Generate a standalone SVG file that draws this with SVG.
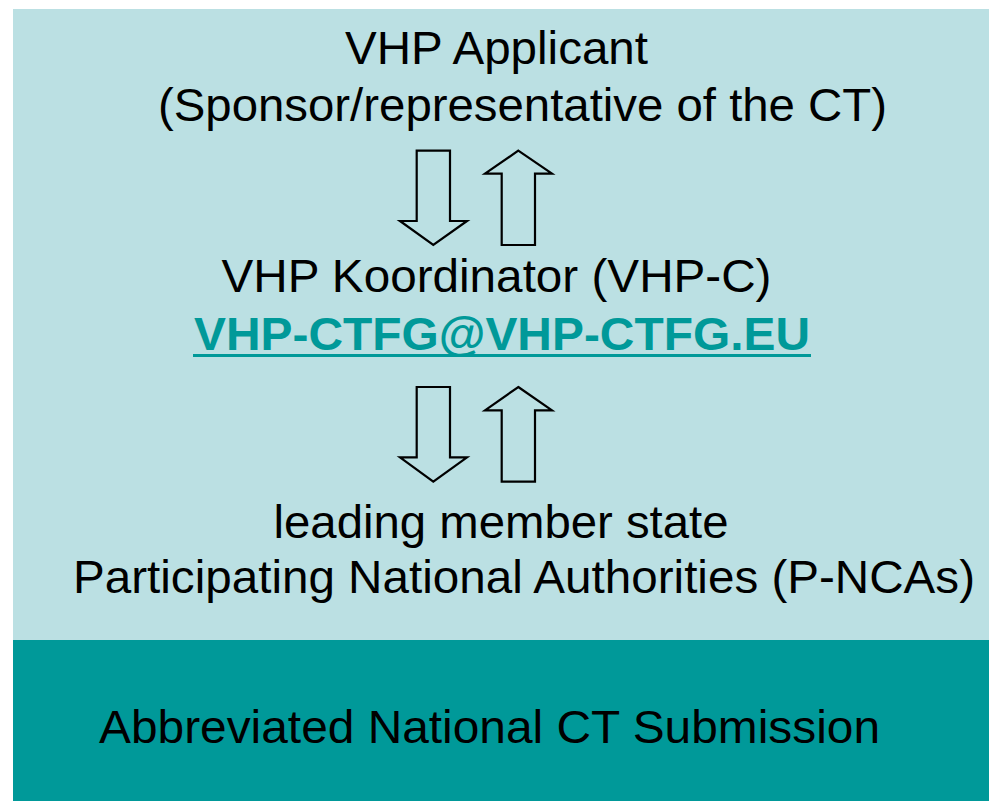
<svg xmlns="http://www.w3.org/2000/svg" width="989" height="801" viewBox="0 0 989 801">
  <style>
    .lbl { font-family: "Liberation Sans", Arial, sans-serif; font-size: 47px; fill: #000; text-anchor: middle; }
    .mail { font-family: "Liberation Sans", Arial, sans-serif; font-size: 46px; font-weight: bold; fill: #009999; text-anchor: middle; }
    .arrow { fill: none; stroke: #000; stroke-width: 2.2; stroke-linejoin: miter; }
  </style>
  <rect x="0" y="0" width="989" height="801" fill="#ffffff"/>
  <!-- panels -->
  <rect id="panel" x="13" y="9" width="976" height="631" fill="#BBE0E3"/>
  <rect id="footer-band" x="13" y="640" width="976" height="161" fill="#009999"/>

  <g id="applicant">
    <text class="lbl" x="496.5" y="64" textLength="303" lengthAdjust="spacingAndGlyphs">VHP Applicant</text>
    <text class="lbl" x="522.5" y="121" textLength="729" lengthAdjust="spacingAndGlyphs">(Sponsor/representative of the CT)</text>
  </g>

  <g id="coordinator">
    <text class="lbl" x="496.5" y="292" textLength="550" lengthAdjust="spacingAndGlyphs">VHP Koordinator (VHP-C)</text>
    <text class="mail" x="502" y="350" textLength="616" lengthAdjust="spacingAndGlyphs">VHP-CTFG@VHP-CTFG.EU</text>
    <rect x="193" y="354" width="618" height="3" fill="#009999"/>
  </g>

  <g id="authorities">
    <text class="lbl" x="501" y="538" textLength="455" lengthAdjust="spacingAndGlyphs">leading member state</text>
    <text class="lbl" x="524" y="593" textLength="902" lengthAdjust="spacingAndGlyphs">Participating National Authorities (P-NCAs)</text>
  </g>

  <g id="submission">
    <text class="lbl" x="489.5" y="743" textLength="781" lengthAdjust="spacingAndGlyphs">Abbreviated National CT Submission</text>
  </g>

  <g id="connectors">
    <!-- applicant -> coordinator -->
    <polygon class="arrow" points="416.7,150.7 450,150.7 450,221 467,221 433.3,245 400,221 416.7,221"/>
    <!-- coordinator -> applicant -->
    <polygon class="arrow" points="518.3,150.7 552,173.7 535,173.7 535,245 501.7,245 501.7,173.7 485,173.7"/>
    <!-- coordinator -> authorities -->
    <polygon class="arrow" points="416.7,387 450,387 450,457.3 467,457.3 433.3,481.7 400,457.3 416.7,457.3"/>
    <!-- authorities -> coordinator -->
    <polygon class="arrow" points="518.3,387 552,410.3 535,410.3 535,481.7 501.7,481.7 501.7,410.3 485,410.3"/>
  </g>
</svg>
